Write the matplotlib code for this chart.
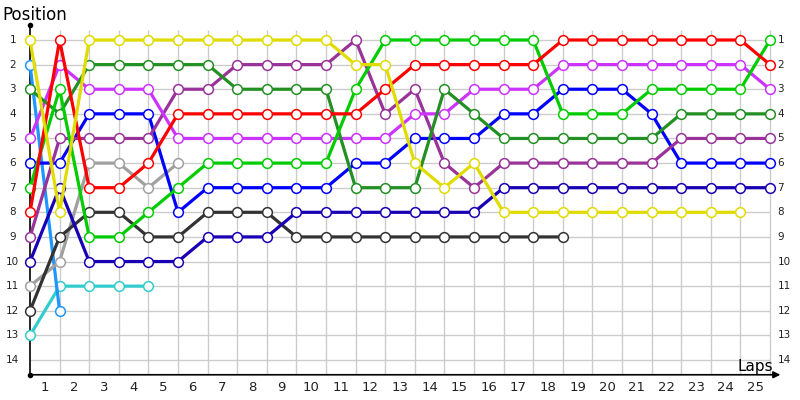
import matplotlib
matplotlib.use("Agg")
import matplotlib.pyplot as plt

# ---- data: position per lap (lap 0 .. last lap completed) ----
laps_total = 25
positions_total = 14

yellow  = [1, 8, 1, 1, 1, 1, 1, 1, 1, 1, 1, 2, 2, 6, 7, 6, 8, 8, 8, 8, 8, 8, 8, 8, 8]
red     = [8, 1, 7, 7, 6, 4, 4, 4, 4, 4, 4, 4, 3, 2, 2, 2, 2, 2, 1, 1, 1, 1, 1, 1, 1, 2]
ltgreen = [7, 3, 9, 9, 8, 7, 6, 6, 6, 6, 6, 3, 1, 1, 1, 1, 1, 1, 4, 4, 4, 3, 3, 3, 3, 1]
dkgreen = [3, 4, 2, 2, 2, 2, 2, 3, 3, 3, 3, 7, 7, 7, 3, 4, 5, 5, 5, 5, 5, 5, 4, 4, 4, 4]
magenta = [5, 2, 3, 3, 3, 5, 5, 5, 5, 5, 5, 5, 5, 4, 4, 3, 3, 3, 2, 2, 2, 2, 2, 2, 2, 3]
purple  = [9, 5, 5, 5, 5, 3, 3, 2, 2, 2, 2, 1, 4, 3, 6, 7, 6, 6, 6, 6, 6, 6, 5, 5, 5, 5]
blue    = [6, 6, 4, 4, 4, 8, 7, 7, 7, 7, 7, 6, 6, 5, 5, 5, 4, 4, 3, 3, 3, 4, 6, 6, 6, 6]
navy    = [10, 7, 10, 10, 10, 10, 9, 9, 9, 8, 8, 8, 8, 8, 8, 8, 7, 7, 7, 7, 7, 7, 7, 7, 7, 7]
black   = [12, 9, 8, 8, 9, 9, 8, 8, 8, 9, 9, 9, 9, 9, 9, 9, 9, 9, 9]
gray    = [11, 10, 6, 6, 7, 6]
ltblue  = [2, 12]
teal    = [13, 11, 11, 11, 11]

series = [
    (teal,    "#33cccc"),
    (ltblue,  "#1e96ff"),
    (gray,    "#a0a0a0"),
    (black,   "#333333"),
    (navy,    "#1a00b4"),
    (blue,    "#0000ff"),
    (purple,  "#993399"),
    (magenta, "#cc33ff"),
    (dkgreen, "#239023"),
    (ltgreen, "#00cc00"),
    (red,     "#ff0000"),
    (yellow,  "#e0dc00"),
]

lap_labels = [str(i) for i in range(1, laps_total + 1)]
pos_labels = [str(i) for i in range(1, positions_total + 1)]

# ---- figure ----
fig = plt.figure(figsize=(8, 4), dpi=100)
ax = fig.add_axes([0, 0, 1, 1])
px_per_lap = 29.6
px_per_pos = 320 / 13
x0_px, y1_px = 30, 40
ax.set_xlim(-x0_px / px_per_lap, (800 - x0_px) / px_per_lap)
ax.set_ylim(1 + (400 - y1_px) / px_per_pos, 1 - y1_px / px_per_pos)
ax.axis("off")

grid_c = "#cccccc"
y_bottom = 14.6
y_top = 0.6
# horizontal grid
ax.hlines(range(1, positions_total + 1), 0, laps_total, colors=grid_c, lw=1, zorder=0)
# vertical grid
ax.vlines(range(1, laps_total + 1), y_top, y_bottom, colors=grid_c, lw=1, zorder=0)

# axes lines
ax.plot([0, 0], [y_bottom, 0.4], color="black", lw=1.2, zorder=1)
ax.plot([0], [0.4], marker="o", ms=3, color="black", zorder=1)
ax.plot([0], [y_bottom], marker="o", ms=3, color="black", zorder=1)
ax.annotate("", xy=(25.35, y_bottom), xytext=(0, y_bottom),
            arrowprops=dict(arrowstyle="-|>", color="black", lw=1.2,
                            mutation_scale=10, shrinkA=0, shrinkB=0))

# tick labels
for i, lab in enumerate(pos_labels):
    ax.text(-0.58, i + 1, lab, ha="center", va="center", fontsize=7.5,
            color="#222222")
    ax.text(25.25, i + 1, lab, ha="left", va="center", fontsize=7.5,
            color="#222222")
for i, lab in enumerate(lap_labels):
    ax.text(i + 0.5, y_bottom + 0.5, lab, ha="center", va="center",
            fontsize=9.5, color="#222222")

ax.text(-0.95, 0.0, "Position", ha="left", va="center", fontsize=12)
ax.text(25.1, 14.25, "Laps", ha="right", va="center", fontsize=11)

# series
for z, (vals, col) in enumerate(series):
    xs = list(range(len(vals)))
    ax.plot(xs, vals, color=col, lw=2.3, solid_joinstyle="round",
            marker="o", ms=7, mfc="white", mec=col, mew=1.1, zorder=2 + z)

fig.savefig("out.png", dpi=100)
